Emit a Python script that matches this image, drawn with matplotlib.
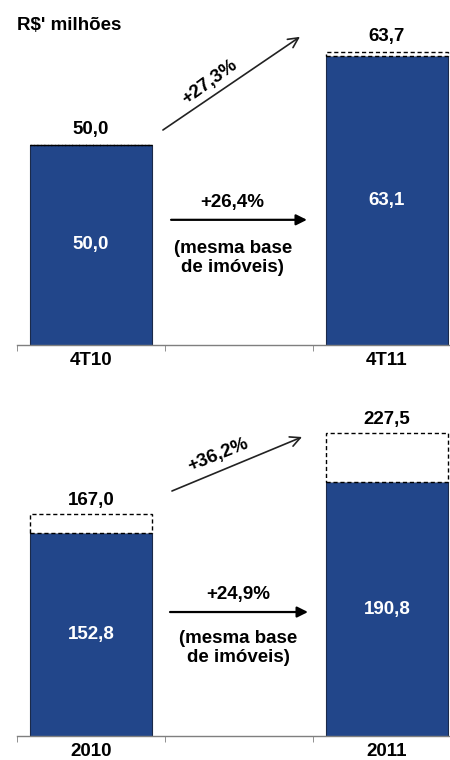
import matplotlib.pyplot as plt
from matplotlib.ticker import FixedLocator

plt.rcParams["font.family"] = ["Liberation Sans", "DejaVu Sans"]

# quarterly panel
quarters = ["4T10", "4T11"]
quarter_base = [50.0, 63.1]
quarter_total = [50.0, 63.7]
quarter_growth_total = "+27,3%"
quarter_growth_same = "+26,4%"

# annual panel
years = ["2010", "2011"]
year_base = [152.8, 190.8]
year_total = [167.0, 227.5]
year_growth_total = "+36,2%"
year_growth_same = "+24,9%"

unit_label = "R$' milhões"
same_base_note = "(mesma base\nde imóveis)"

BLUE = "#22468a"
FS = 13.5


def fmt(v):
    return f"{v:.1f}".replace(".", ",")


def draw_panel(ax, labels, base, total, ylim, top_offset,
               diag, diag_text, diag_rot, horiz, horiz_text, note_xy):
    xs = [0, 2]
    ax.bar(xs, base, width=0.83, color=BLUE, edgecolor="#1b2a4a",
           linewidth=0.8, zorder=2)
    extra = [t - b for t, b in zip(total, base)]
    ax.bar(xs, extra, bottom=base, width=0.83, color="white",
           edgecolor="black", linewidth=1.0, linestyle=(0, (3, 2)), zorder=3)

    for x, b, t in zip(xs, base, total):
        ax.text(x, (ylim[0] + b) / 2, fmt(b), color="white", fontsize=FS,
                fontweight="bold", ha="center", va="center", zorder=4)
        ax.annotate(fmt(t), (x, t), xytext=(0, top_offset),
                    textcoords="offset points", ha="center", va="center",
                    fontsize=FS, fontweight="bold")

    # total growth arrow (open head)
    (x0, y0), (x1, y1), (tx, ty) = diag
    ax.annotate("", xy=(x1, y1), xytext=(x0, y0),
                arrowprops=dict(arrowstyle="->", lw=1.2, color="#222222",
                                mutation_scale=18, shrinkA=0, shrinkB=0))
    ax.text(tx, ty, diag_text, rotation=diag_rot, fontsize=FS,
            fontweight="bold", ha="center", va="center",
            rotation_mode="anchor")

    # same-base growth arrow (filled head)
    (hx0, hx1, hy), (htx, hty) = horiz
    ax.annotate("", xy=(hx1, hy), xytext=(hx0, hy),
                arrowprops=dict(arrowstyle="-|>", lw=1.6, color="black",
                                mutation_scale=16, shrinkA=0, shrinkB=0))
    ax.text(htx, hty, horiz_text, fontsize=FS, fontweight="bold",
            ha="center", va="center")
    ax.text(note_xy[0], note_xy[1], same_base_note, fontsize=FS,
            fontweight="bold", ha="center", va="center", linespacing=1.1)

    ax.set_xlim(-0.5, 2.5)
    ax.set_ylim(*ylim)
    ax.set_xticks(xs)
    ax.set_xticklabels(labels, fontsize=FS, fontweight="bold")
    ax.xaxis.set_minor_locator(FixedLocator([-0.5, 0.5, 1.5, 2.5]))
    ax.tick_params(axis="x", which="major", length=0, pad=5)
    ax.tick_params(axis="x", which="minor", length=4, color="#7f7f7f",
                   direction="out")
    ax.set_yticks([])
    for side in ("left", "right", "top"):
        ax.spines[side].set_visible(False)
    ax.spines["bottom"].set_color("#7f7f7f")
    ax.spines["bottom"].set_linewidth(1.0)
    ax.set_facecolor("none")


fig = plt.figure(figsize=(4.5, 7.6), dpi=100)

ax_top = fig.add_axes([17 / 450, 415 / 760, 444 / 450, 315 / 760])
draw_panel(ax_top, quarters, quarter_base, quarter_total,
           ylim=(20.6, 66.9), top_offset=11,
           diag=((0.486, 52.2), (1.412, 65.9), (0.80, 59.3)),
           diag_text=quarter_growth_total, diag_rot=36,
           horiz=((0.541, 1.459, 39.0), (0.953, 41.6)),
           horiz_text=quarter_growth_same, note_xy=(0.959, 33.4))

ax_bot = fig.add_axes([17 / 450, 24 / 760, 444 / 450, 336 / 760])
draw_panel(ax_bot, years, year_base, year_total,
           ylim=(1.3, 252.0), top_offset=9.5,
           diag=((0.547, 184.1), (1.426, 224.4), (0.86, 211.0)),
           diag_text=year_growth_total, diag_rot=22,
           horiz=((0.534, 1.466, 93.8), (0.993, 107.0)),
           horiz_text=year_growth_same, note_xy=(0.993, 67.0))

fig.text(17 / 450, 1 - 25 / 760, unit_label, fontsize=FS, fontweight="bold",
         ha="left", va="center")

fig.savefig("out.png", dpi=100, facecolor="white")
